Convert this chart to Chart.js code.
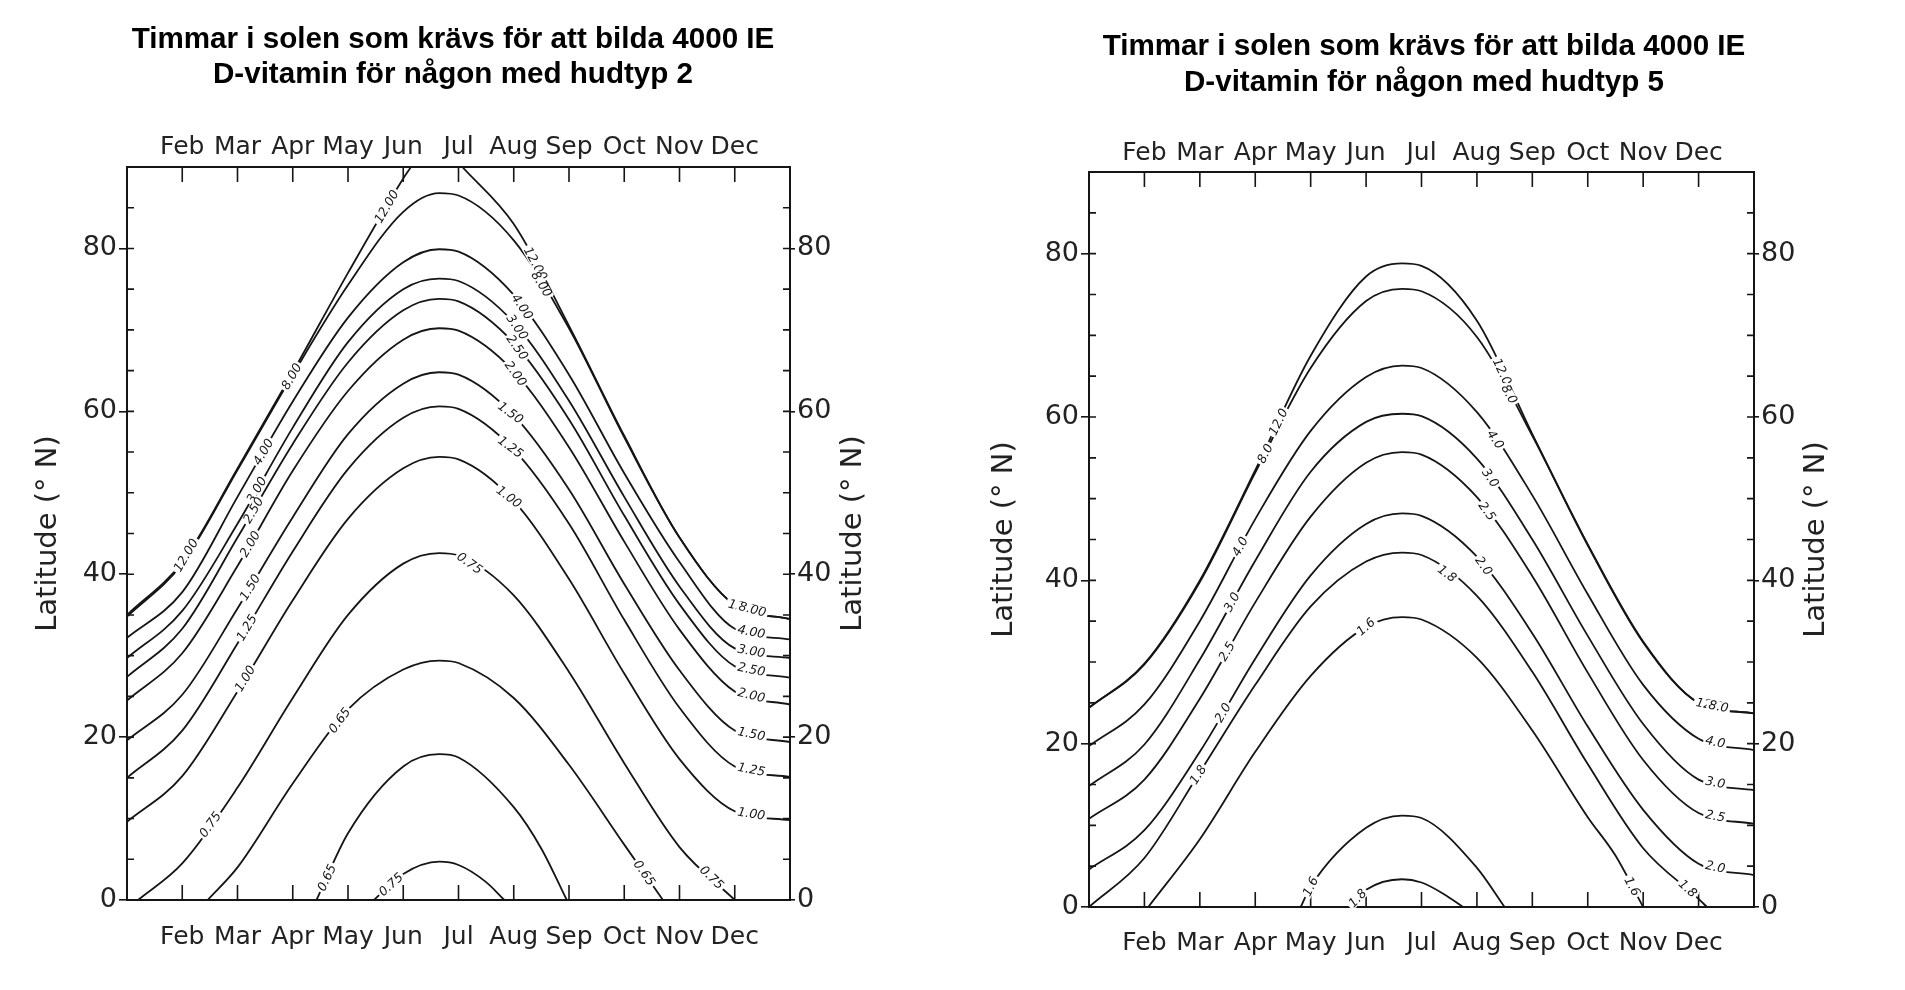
<!DOCTYPE html>
<html>
<head>
<meta charset="utf-8">
<script src="https://cdn.jsdelivr.net/npm/chart.js@4.4.1/dist/chart.umd.min.js"></script>
<style>
  html, body { margin: 0; padding: 0; background: #fff; }
  body { width: 1905px; height: 990px; position: relative; overflow: hidden; }
  canvas { position: absolute; top: 0; }
  .title {
    position: absolute; text-align: center; color: #000;
    font-family: 'Liberation Sans', Arial, sans-serif; font-weight: bold; font-size: 29.6px;
  }
</style>
</head>
<body>
<canvas id="hud2" width="952" height="990" style="left:0"></canvas>
<canvas id="hud5" width="953" height="990" style="left:952px"></canvas>
<div class="title" style="left:0;width:906px;top:20px;line-height:35px">Timmar i solen som krävs för att bilda 4000 IE<br>D-vitamin för någon med hudtyp 2</div>
<div class="title" style="left:974px;width:900px;top:27px;line-height:36px">Timmar i solen som krävs för att bilda 4000 IE<br>D-vitamin för någon med hudtyp 5</div>
<script>
const months = ['Feb', 'Mar', 'Apr', 'May', 'Jun', 'Jul', 'Aug', 'Sep', 'Oct', 'Nov', 'Dec'];
const latLabels = [0, 20, 40, 60, 80];
const axisTitle = 'Latitude (° N)';

// hudtyp 2 - each contour as [month position (0 = 1 Jan), latitude]
const h2_12 = [[0,35],[1,41.5],[2,53],[3,64.8],[4,77],[5,88.6],[5.14,90],[5.6,null],[6.07,90],[7,83],[8,70.5],[9,57],[10,44.5],[11,36.2],[12,34.5]];
const h2_8 = [[0,34.8],[1,41.3],[2,52.8],[3,64.5],[4,75.5],[5,84.5],[5.65,86.8],[6,86.5],[7,81],[8,70.2],[9,56.8],[10,44.5],[11,36.2],[12,34.5]];
const h2_4 = [[0,32.2],[1,37.8],[2,49.5],[3,61.2],[4,71.5],[5,78.3],[5.65,79.9],[6,79.6],[7,74.3],[8,64.5],[9,52.4],[10,41.5],[11,33.3],[12,32]];
const h2_3 = [[0,29.7],[1,35.5],[2,46.2],[3,58],[4,68.5],[5,75],[5.65,76.3],[6,76],[7,70.9],[8,61.3],[9,49.5],[10,38.5],[11,30.9],[12,29.7]];
const h2_25 = [[0,27.4],[1,33.3],[2,44.5],[3,56],[4,66],[5,72.4],[5.65,73.8],[6,73.5],[7,68.4],[8,59],[9,47.2],[10,36.3],[11,28.7],[12,27.3]];
const h2_2 = [[0,24.5],[1,30.3],[2,41],[3,52.7],[4,62.5],[5,68.8],[5.65,70.2],[6,69.9],[7,64.9],[8,55.6],[9,44],[10,33.2],[11,25.6],[12,24]];
const h2_15 = [[0,19.6],[1,25.2],[2,35.8],[3,47],[4,57.2],[5,63.4],[5.65,64.8],[6,64.5],[7,59.5],[8,50.4],[9,38.8],[10,28.2],[11,20.8],[12,19.4]];
const h2_125 = [[0,15],[1,20.8],[2,31.5],[3,42.8],[4,52.9],[5,59.2],[5.65,60.6],[6,60.3],[7,55.3],[8,46.2],[9,34.4],[10,23.6],[11,16.4],[12,15.1]];
const h2_1 = [[0,9.6],[1,15.2],[2,25.6],[3,36.8],[4,46.8],[5,53],[5.65,54.4],[6,54.1],[7,49],[8,39.4],[9,27.8],[10,17.3],[11,10.9],[12,9.8]];
const h2_075 = [[0.2,0],[1,4.5],[2,13.8],[3,24.8],[4,35],[5,41.3],[5.65,42.6],[6,42.3],[7,37.4],[8,28],[9,16.8],[10,6.5],[11,0]];
const h2_065 = [[1.46,0],[2,4],[3,14.3],[4,23.4],[5,28.3],[5.65,29.4],[6,29.1],[7,24.8],[8,16.6],[9,6.8],[9.7,0]];
const h2_065b = [[3.43,0],[4,8.2],[5,16.4],[5.65,17.9],[6,17.5],[7,11.4],[7.5,6.3],[7.96,0]];
const h2_075b = [[4.47,0],[5,3.2],[5.65,4.7],[6,4.3],[6.5,2.2],[6.83,0]];

// hudtyp 5
const h5_12 = [[0,24.4],[1,29.8],[2,40],[3,53.5],[4,67.5],[5,77.2],[5.65,78.8],[6,78.5],[7,71.8],[8,57.9],[9,44.4],[10,32.5],[11,25],[12,23.7]];
const h5_8 = [[0,24.4],[1,29.7],[2,39.8],[3,53.2],[4,66],[5,74.2],[5.65,75.7],[6,75.4],[7,69.8],[8,57.7],[9,44.3],[10,32.4],[11,25],[12,23.7]];
const h5_4 = [[0,19.7],[1,24.8],[2,35],[3,47.5],[4,58.3],[5,64.9],[5.65,66.3],[6,66],[7,60.6],[8,50.4],[9,38.3],[10,27.2],[11,20.6],[12,19.2]];
const h5_3 = [[0,14.8],[1,19.9],[2,30.3],[3,42.4],[4,53.3],[5,59.4],[5.65,60.4],[6,60.1],[7,54.9],[8,45],[9,33.2],[10,22.4],[11,15.6],[12,14.3]];
const h5_25 = [[0,10.8],[1,15.6],[2,25.5],[3,37.3],[4,47.8],[5,54.4],[5.65,55.7],[6,55.4],[7,50.2],[8,40.5],[9,28.7],[10,18],[11,11.5],[12,10.2]];
const h5_2 = [[0,4.6],[1,9.4],[2,19],[3,30.4],[4,40.6],[5,46.9],[5.65,48.2],[6,47.9],[7,42.9],[8,33.5],[9,22.1],[10,11.9],[11,5.3],[12,3.9]];
const h5_18 = [[0,0],[1,6],[2,16.5],[3,27.2],[4,36.8],[5,42.3],[5.65,43.4],[6,43.1],[7,38.1],[8,28.8],[9,17.5],[10,7.2],[11,1],[11.15,0]];
const h5_16 = [[1.07,0],[2,8.3],[3,19],[4,28.3],[5,34.3],[5.65,35.5],[6,35.2],[7,30.5],[8,21.6],[9,11],[9.5,6.3],[10,0]];
const h5_16b = [[3.82,0],[4,2.5],[5,9.7],[5.65,11.2],[6,10.9],[7,4.8],[7.5,0]];
const h5_18b = [[4.7,0],[5,2.1],[5.65,3.4],[6,3.0],[6.4,1.6],[6.75,0]];

// contour labels: [text, contour, month position]
const h2_labels = [
  ['12.00', h2_12, 1.07], ['8.00', h2_8, 2.98], ['12.00', h2_12, 4.7],
  ['4.00', h2_4, 2.47], ['3.00', h2_3, 2.35], ['2.50', h2_25, 2.29], ['2.00', h2_2, 2.23],
  ['1.50', h2_15, 2.23], ['1.25', h2_125, 2.17], ['1.00', h2_1, 2.14], ['0.75', h2_075, 1.51],
  ['0.65', h2_065, 3.85], ['0.65', h2_065b, 3.62], ['0.75', h2_075b, 4.78], ['0.75', h2_075, 6.2],
  ['12.00', h2_12, 7.39], ['8.00', h2_8, 7.5], ['4.00', h2_4, 7.15], ['3.00', h2_3, 7.06],
  ['2.50', h2_25, 7.06], ['2.00', h2_2, 7.03], ['1.50', h2_15, 6.94], ['1.25', h2_125, 6.94],
  ['1.00', h2_1, 6.91], ['0.65', h2_065, 9.36], ['0.75', h2_075, 10.58],
  ['12.00', h2_12, 11.2], ['8.00', h2_8, 11.32], ['4.00', h2_4, 11.3], ['3.00', h2_3, 11.3],
  ['2.50', h2_25, 11.3], ['2.00', h2_2, 11.3], ['1.50', h2_15, 11.3], ['1.25', h2_125, 11.3], ['1.00', h2_1, 11.3]
];
const h5_labels = [
  ['8.0', h5_8, 3.18], ['12.0', h5_12, 3.42], ['4.0', h5_4, 2.73], ['3.0', h5_3, 2.58],
  ['2.5', h5_25, 2.49], ['2.0', h5_2, 2.42], ['1.8', h5_18, 1.97], ['1.6', h5_16, 5.0],
  ['1.6', h5_16b, 4.0], ['1.8', h5_18b, 4.85],
  ['12.0', h5_12, 7.45], ['8.0', h5_8, 7.58], ['4.0', h5_4, 7.33], ['3.0', h5_3, 7.24],
  ['2.5', h5_25, 7.18], ['2.0', h5_2, 7.12], ['1.8', h5_18, 6.46], ['1.6', h5_16, 9.8], ['1.8', h5_18, 10.8],
  ['12.0', h5_12, 11.2], ['8.0', h5_8, 11.36], ['4.0', h5_4, 11.3], ['3.0', h5_3, 11.3],
  ['2.5', h5_25, 11.3], ['2.0', h5_2, 11.3]
];

const ink = '#151515';
const fontFamily = "'DejaVu Sans', sans-serif";
const axisFont = size => ({ family: fontFamily, size: size });

// inward frame ticks, right-hand axis title, labels sitting in gaps of the contour lines
const contourDecor = {
  id: 'contourDecor',
  afterDatasetsDraw(chart, args, opts) {
    const { ctx, chartArea: a } = chart;
    const sx = chart.scales.x, sy = chart.scales.y;
    ctx.save();
    ctx.strokeStyle = ink;
    ctx.lineWidth = 1.6;
    ctx.beginPath();
    for (let m = 1; m < 12; m++) {
      const px = sx.getPixelForValue(m);
      ctx.moveTo(px, a.top); ctx.lineTo(px, a.top + 15);
      ctx.moveTo(px, a.bottom); ctx.lineTo(px, a.bottom - 15);
    }
    for (let v = 5; v < 90; v += 5) {
      const py = sy.getPixelForValue(v);
      ctx.moveTo(a.left, py); ctx.lineTo(a.left + 7, py);
      ctx.moveTo(a.right, py); ctx.lineTo(a.right - 7, py);
    }
    ctx.stroke();

    ctx.save();
    ctx.translate(opts.rightTitleX, (a.top + a.bottom) / 2);
    ctx.rotate(-Math.PI / 2);
    ctx.font = '29px ' + fontFamily;
    ctx.fillStyle = '#222';
    ctx.textAlign = 'center';
    ctx.textBaseline = 'middle';
    ctx.fillText(axisTitle, 0, 0);
    ctx.restore();

    ctx.font = 'italic 12.5px ' + fontFamily;
    ctx.textAlign = 'center';
    ctx.textBaseline = 'middle';
    for (const [text, curve, x] of opts.items) {
      const pts = curve.filter(p => p[1] !== null);
      let i = 0;
      while (i < pts.length - 2 && pts[i + 1][0] < x) i++;
      const p0 = pts[i], p1 = pts[i + 1];
      const x0 = sx.getPixelForValue(p0[0]), y0 = sy.getPixelForValue(p0[1]);
      const x1 = sx.getPixelForValue(p1[0]), y1 = sy.getPixelForValue(p1[1]);
      const t = (x - p0[0]) / (p1[0] - p0[0]);
      const w = ctx.measureText(text).width + 4;
      ctx.save();
      ctx.translate(x0 + t * (x1 - x0), y0 + t * (y1 - y0));
      ctx.rotate(Math.atan2(y1 - y0, x1 - x0));
      ctx.fillStyle = '#fff';
      ctx.fillRect(-w / 2, -5, w, 10);
      ctx.fillStyle = ink;
      ctx.fillText(text, 0, 0.5);
      ctx.restore();
    }
    ctx.restore();
  }
};

function yAxis(pos, width, tickLen, title) {
  return {
    type: 'linear', position: pos, min: 0, max: 90,
    afterFit: s => { s.width = width; },
    ticks: {
      stepSize: 5, autoSkip: false, padding: 2, color: '#222', font: axisFont(27),
      callback: v => latLabels.includes(v) ? String(v) : ''
    },
    grid: {
      drawOnChartArea: false, drawTicks: true, tickLength: tickLen, lineWidth: 1.6,
      color: c => (c.tick && latLabels.includes(c.tick.value)) ? ink : 'rgba(0,0,0,0)'
    },
    border: { display: true, color: ink, width: 2 },
    title: title
  };
}

function xAxis(pos, height, pad) {
  return {
    type: 'linear', position: pos, min: 0, max: 12,
    afterFit: s => { s.height = height; },
    ticks: {
      stepSize: 1, autoSkip: false, maxRotation: 0, padding: pad, color: '#222', font: axisFont(25),
      callback: v => months[v - 1] || ''
    },
    grid: { drawOnChartArea: false, drawTicks: false },
    border: { display: true, color: ink, width: 2 }
  };
}

function contourChart(id, curves, labels, box) {
  new Chart(document.getElementById(id), {
    type: 'scatter',
    data: {
      datasets: curves.map(c => ({
        data: c.map(p => ({ x: p[0], y: p[1] })),
        showLine: true, spanGaps: false, cubicInterpolationMode: 'monotone',
        borderColor: ink, borderWidth: 1.8, pointRadius: 0, pointHoverRadius: 0
      }))
    },
    options: {
      responsive: false, animation: false, devicePixelRatio: 1, events: [],
      layout: { padding: 0 },
      plugins: {
        legend: { display: false }, tooltip: { enabled: false },
        contourDecor: { items: labels, rightTitleX: box.rightTitleX }
      },
      scales: {
        x: xAxis('bottom', box.bottom, box.padBottom),
        xTop: xAxis('top', box.top, box.padTop),
        y: yAxis('left', box.left, box.tickLeft, {
          display: true, text: axisTitle, color: '#222', font: axisFont(29),
          padding: { top: box.titleLeft, bottom: 0 }
        }),
        yRight: yAxis('right', box.right, box.tickRight, { display: false })
      }
    },
    plugins: [contourDecor]
  });
}

contourChart('hud2',
  [h2_12, h2_8, h2_4, h2_3, h2_25, h2_2, h2_15, h2_125, h2_1, h2_075, h2_065, h2_065b, h2_075b],
  h2_labels,
  { left: 127, right: 162, top: 167, bottom: 90, padTop: 5, padBottom: 22,
    titleLeft: 31, rightTitleX: 853, tickLeft: 8, tickRight: 5 });

contourChart('hud5',
  [h5_12, h5_8, h5_4, h5_3, h5_25, h5_2, h5_18, h5_16, h5_16b, h5_18b],
  h5_labels,
  { left: 137, right: 151, top: 172, bottom: 83, padTop: 4, padBottom: 21,
    titleLeft: 35, rightTitleX: 864, tickLeft: 8, tickRight: 5 });
</script>
</body>
</html>
